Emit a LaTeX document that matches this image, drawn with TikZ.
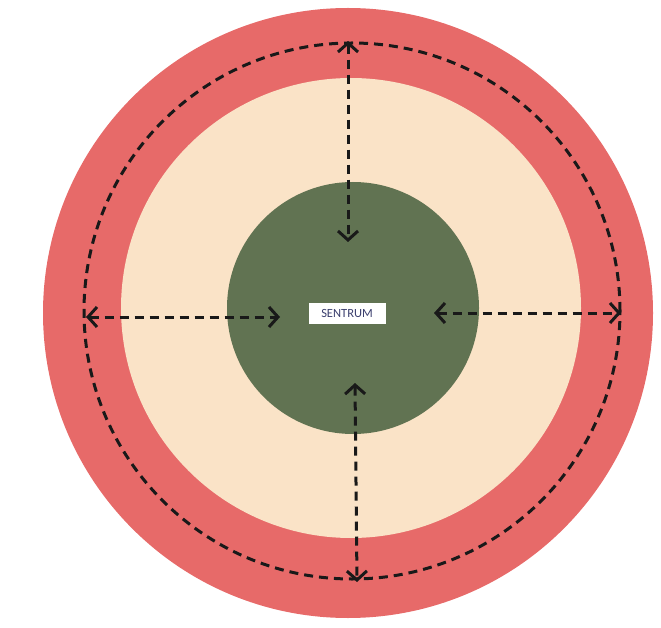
\documentclass[tikz,border=0pt]{standalone}
\usepackage{fontspec}
\setsansfont{Carlito}
\usepackage{tikz}
\usetikzlibrary{arrows.meta, positioning, calc}
\definecolor{ringred}{HTML}{E76A69}
\definecolor{ringcream}{HTML}{FAE3C7}
\definecolor{coregreen}{HTML}{617352}
\definecolor{labelnavy}{HTML}{3B3F6E}

\begin{document}
\begin{tikzpicture}[
    x=1pt, y=-1pt,
    zone/.style={circle, inner sep=0pt, draw=none},
    orbit/.style={circle, inner sep=0pt, draw=black!90, line width=3pt, dash pattern=on 9pt off 6pt},
    label/.style={rectangle, fill=white, text=labelnavy, font=\sffamily\fontsize{12.5}{12.5}\selectfont, minimum width=77pt, minimum height=21pt, inner sep=2pt},
    arrow/.style={{Straight Barb[length=9pt, width=20pt, line width=3pt]}-{Straight Barb[length=9pt, width=20pt, line width=3pt]}, line width=3pt, black!90, dash pattern=on 9pt off 6pt}
]
\useasboundingbox (0,0) rectangle (661,628);

% Nodes
\node[zone, fill=ringred, minimum size=610pt] (outer) at (348,313) {};
\node[zone, fill=ringcream, minimum size=460pt] (middle) at (351,308) {};
\node[zone, fill=coregreen, minimum size=252pt] (core) at (353,308) {};
\node[orbit, minimum size=536pt] (ring) at (352,311) {};
\node[label] (centre) at (347,313) {SENTRUM};

% Arrow ends
\coordinate (topout) at (348,41);
\coordinate (topin) at (348,242);
\coordinate (botin) at (355,383);
\coordinate (botout) at (357,582);
\coordinate (leftout) at (86,317);
\coordinate (leftin) at (280,317);
\coordinate (rightin) at (434,313);
\coordinate (rightout) at (621,313);

% Arrows
\draw[arrow] (topout) -- (topin);
\draw[arrow] (botin) -- (botout);
\draw[arrow] (leftout) -- (leftin);
\draw[arrow] (rightin) -- (rightout);

\end{tikzpicture}
\end{document}
